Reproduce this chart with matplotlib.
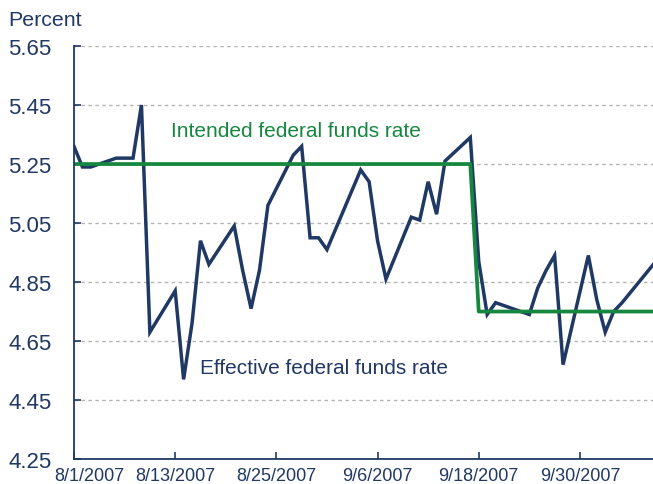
import matplotlib
matplotlib.use("Agg")
import matplotlib.pyplot as plt
import matplotlib.transforms as mtransforms
import numpy as np

plt.rcParams['font.family'] = ['Liberation Sans', 'DejaVu Sans']

NAVY = '#1f3864'
GREEN = '#16873f'

# Effective federal funds rate (business days)
eff_dates = np.array([
    '2007-08-01', '2007-08-02', '2007-08-03', '2007-08-06', '2007-08-07',
    '2007-08-08', '2007-08-09', '2007-08-10', '2007-08-13', '2007-08-14',
    '2007-08-15', '2007-08-16', '2007-08-17', '2007-08-20', '2007-08-21',
    '2007-08-22', '2007-08-23', '2007-08-24', '2007-08-27', '2007-08-28',
    '2007-08-29', '2007-08-30', '2007-08-31', '2007-09-04', '2007-09-05',
    '2007-09-06', '2007-09-07', '2007-09-10', '2007-09-11', '2007-09-12',
    '2007-09-13', '2007-09-14', '2007-09-17', '2007-09-18', '2007-09-19',
    '2007-09-20', '2007-09-21', '2007-09-24', '2007-09-25', '2007-09-26',
    '2007-09-27', '2007-09-28', '2007-10-01', '2007-10-02', '2007-10-03',
    '2007-10-04', '2007-10-05', '2007-10-09'], dtype='datetime64[D]')
eff_rate = [
    5.31, 5.24, 5.24, 5.27, 5.27,
    5.27, 5.45, 4.68, 4.82, 4.52,
    4.71, 4.99, 4.91, 5.04, 4.89,
    4.76, 4.89, 5.11, 5.28, 5.31,
    5.00, 5.00, 4.96, 5.23, 5.19,
    4.99, 4.86, 5.07, 5.06, 5.19,
    5.08, 5.26, 5.34, 4.92, 4.74,
    4.78, 4.77, 4.74, 4.83, 4.89,
    4.94, 4.57, 4.94, 4.79, 4.68,
    4.75, 4.78, 4.92]

# Intended (target) federal funds rate
target_dates = np.array(['2007-08-01', '2007-09-17', '2007-09-18', '2007-10-09'],
                        dtype='datetime64[D]')
target_rate = [5.25, 5.25, 4.75, 4.75]

tick_dates = np.array(['2007-08-01', '2007-08-13', '2007-08-25', '2007-09-06',
                       '2007-09-18', '2007-09-30'], dtype='datetime64[D]')
tick_labels = ['8/1/2007', '8/13/2007', '8/25/2007', '9/6/2007', '9/18/2007', '9/30/2007']
y_ticks = [4.25, 4.45, 4.65, 4.85, 5.05, 5.25, 5.45, 5.65]

fig = plt.figure(figsize=(6.53, 4.85), dpi=100)
ax = fig.add_axes([0.1133, 0.0515, 0.8867, 0.8515])

ax.plot(eff_dates, eff_rate, color=NAVY, lw=2.5, solid_joinstyle='miter', zorder=2)
ax.plot(target_dates, target_rate, color=GREEN, lw=2.7, zorder=3)

ax.set_ylim(4.25, 5.65)
ax.set_xlim(np.datetime64('2007-08-01T00:00'), np.datetime64('2007-10-08T16:00'))
ax.set_yticks(y_ticks)
ax.set_yticklabels([f'{v:.2f}' for v in y_ticks])
ax.set_xticks(tick_dates)
ax.set_xticklabels(tick_labels)

for v in y_ticks[1:]:
    ax.axhline(v, color='#b3b3b3', lw=1.0, ls=(0, (2.5, 2.5)), zorder=1)

for s in ['top', 'right']:
    ax.spines[s].set_visible(False)
for s in ['left', 'bottom']:
    ax.spines[s].set_color(NAVY)
    ax.spines[s].set_linewidth(1.3)
ax.spines['left'].set_zorder(4)

ax.tick_params(axis='y', direction='in', length=5, width=1.2, color=NAVY,
               labelsize=16, labelcolor=NAVY, pad=16)
ax.tick_params(axis='x', direction='in', length=5, width=1.2, color=NAVY,
               labelsize=13, labelcolor=NAVY, pad=6)

# first date label sits a bit right of its tick
lbl0 = ax.get_xticklabels()[0]
lbl0.set_transform(lbl0.get_transform() + mtransforms.ScaledTranslation(15 / 100, 0, fig.dpi_scale_trans))

fig.text(8 / 653, 1 - 21 / 485, 'Percent', fontsize=15.4, color=NAVY, ha='left', va='center')
ax.text(np.datetime64('2007-08-12T12:00'), 5.365, 'Intended federal funds rate',
        fontsize=15, color=GREEN, ha='left', va='center')
ax.text(np.datetime64('2007-08-16T00:00'), 4.56, 'Effective federal funds rate',
        fontsize=15, color=NAVY, ha='left', va='center')

fig.savefig('out.png', dpi=100)
